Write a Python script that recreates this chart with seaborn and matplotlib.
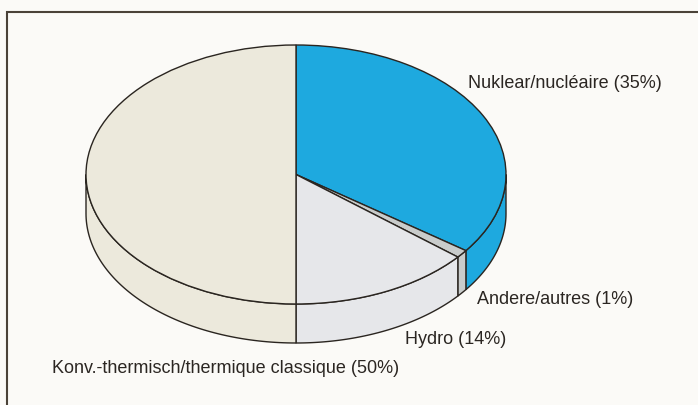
import matplotlib
matplotlib.use('Agg')
import matplotlib.pyplot as plt
from matplotlib.patches import Polygon, Rectangle
from matplotlib import font_manager
import seaborn as sns
import numpy as np

# Daten (Anteile der Stromproduktion)
labels = ["Nuklear/nucléaire (35%)", "Andere/autres (1%)", "Hydro (14%)",
          "Konv.-thermisch/thermique classique (50%)"]
anteile = [35, 1, 14, 50]
farben = ["#1ea9df", "#c9cccb", "#e6e7ea", "#ece9dc"]

sns.set_style("white")
namen = {f.name for f in font_manager.fontManager.ttflist}
schrift = "Liberation Sans Narrow" if "Liberation Sans Narrow" in namen else "Liberation Sans"
plt.rcParams['font.family'] = [schrift, 'DejaVu Sans']

W, H = 698, 406
fig = plt.figure(figsize=(W / 100, H / 100), dpi=100)
fig.patch.set_facecolor("#fbfaf7")
ax = fig.add_axes([0, 0, 1, 1])
ax.set_facecolor("#fbfaf7")

# Ellipse in Pixel: Zentrum (296, 175.5), Radien 210 x 129.5, Tiefe 39
cx, cy, rx, ry, tiefe = 296, 175.5, 210, 129.5, 39
d = tiefe / ry

# Seitenflaechen
winkel = 90.0
for wert, farbe in zip(anteile, farben):
    t1 = winkel - wert * 3.6
    t2 = winkel
    winkel = t1
    # sichtbarer Bereich: 180..360 Grad
    a = np.array([t1, t2])
    a = np.where(a < -180 + 1e-9, a + 360, a)
    lo, hi = t1 % 360, t1 % 360 + wert * 3.6
    for off in (0, -360, 360):
        s = max(lo + off, 180)
        e = min(hi + off, 360)
        if e > s:
            th = np.radians(np.linspace(s, e, 80))
            oben = np.column_stack([np.cos(th), np.sin(th)])
            unten = np.column_stack([np.cos(th[::-1]), np.sin(th[::-1]) - d])
            ax.add_patch(Polygon(np.vstack([oben, unten]), closed=True,
                                 facecolor=farbe, edgecolor="#2a2520", lw=1.0, zorder=1))

# Deckflaeche
ax.pie(anteile, colors=farben, startangle=90, counterclock=False,
       wedgeprops=dict(edgecolor="#2a2520", linewidth=1.0, zorder=2))

ax.set_aspect('auto')
ax.set_xlim(-cx / rx, (W - cx) / rx)
ax.set_ylim((cy - H) / ry, cy / ry)
ax.axis('off')

# Beschriftungen (Pixelpositionen)
pos = [(468, 84), (477, 300), (405, 340), (52, 369)]
for text, (px, py) in zip(labels, pos):
    fig.text(px / W, 1 - py / H, text, ha='left', va='center',
             fontsize=13, color="#2b2622")

# Rahmen
fig.patches.append(Rectangle((7 / W, -0.1), 1.2, 1 - 12.5 / H + 0.1,
                             transform=fig.transFigure, fill=False,
                             edgecolor="#4a4238", lw=1.5))

plt.savefig("out.png", dpi=100, facecolor=fig.get_facecolor())
plt.close()
